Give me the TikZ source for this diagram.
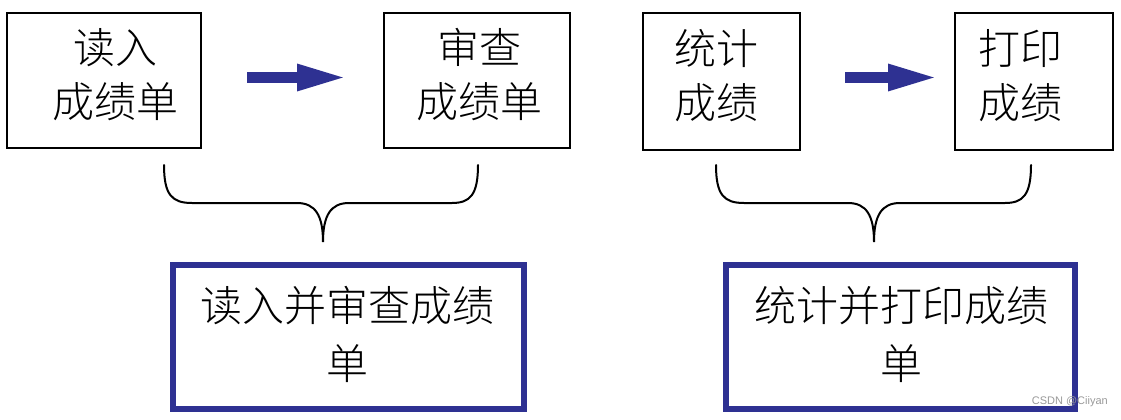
\documentclass[tikz,border=0pt]{standalone}
\usepackage{fontspec}
\newfontfamily\cjk{Noto Sans CJK SC Light}
\newfontfamily\wmfont{Liberation Sans}
\usetikzlibrary{arrows.meta}
\definecolor{navy}{HTML}{2E3192}
\tikzset{
  smallbox/.style={draw=black, line width=2.3pt, minimum width=#1, inner sep=0pt},
  bigbox/.style={draw=navy, line width=6pt, inner sep=0pt},
  boxtext/.style={font=\cjk\fontsize{42}{54}\selectfont, align=center, inner sep=0pt},
  bigtext/.style={font=\cjk\fontsize{42}{58}\selectfont, align=center, inner sep=0pt},
  flowarrow/.style={draw=navy, line width=11pt, -{Triangle[length=51pt,width=24pt]}},
  brace/.style={draw=black, line width=2pt, line cap=round},
}
\begin{document}
\begin{tikzpicture}[x=1pt,y=-1pt]
\useasboundingbox (0,0) rectangle (1121,420);
% small boxes
\node[smallbox=194pt, minimum height=135pt] (b1) at (104,80.5) {};
\node[smallbox=186pt, minimum height=135pt] (b2) at (477,80.5) {};
\node[smallbox=157pt, minimum height=137pt] (b3) at (721.5,81.5) {};
\node[smallbox=158pt, minimum height=137pt] (b4) at (1034,81.5) {};
\node[boxtext] (t1) at (115,75) {读入\\成绩单};
\node[boxtext] (t2) at (479,75) {审查\\成绩单};
\node[boxtext] (t3) at (716,76) {统计\\成绩};
\node[boxtext] (t4) at (1020,76) {打印\\成绩};
% arrows
\coordinate (a1s) at (247,77.5);
\coordinate (a1e) at (348,77.5);
\coordinate (a2s) at (845,77.5);
\coordinate (a2e) at (939,77.5);
\draw[flowarrow] (a1s) -- (a1e);
\draw[flowarrow] (a2s) -- (a2e);
% braces
\draw[brace] (164,165) .. controls (164,195) and (172,203) .. (192,203) -- (297,203)
  .. controls (315,203) and (323,215) .. (323,242)
  .. controls (323,215) and (331,203) .. (349,203) -- (452,203)
  .. controls (470,203) and (478,195) .. (478,165);
\draw[brace] (716,165) .. controls (716,195) and (724,203) .. (744,203) -- (848,203)
  .. controls (866,203) and (874,215) .. (874,242)
  .. controls (874,215) and (882,203) .. (900,203) -- (1005,203)
  .. controls (1023,203) and (1031,195) .. (1031,165);
% big boxes
\node[bigbox, minimum width=351pt, minimum height=144pt] (b5) at (348.5,337) {};
\node[bigbox, minimum width=349pt, minimum height=144pt] (b6) at (900.5,337) {};
\node[bigtext] (t5) at (347,334) {读入并审查成绩\\单};
\node[bigtext] (t6) at (901,334) {统计并打印成绩\\单};
% watermark
\node[font=\wmfont\fontsize{11}{13}\selectfont, text=black!40, anchor=east, inner sep=0pt] (wm) at (1108,402) {CSDN @Ciiyan};
\end{tikzpicture}
\end{document}
